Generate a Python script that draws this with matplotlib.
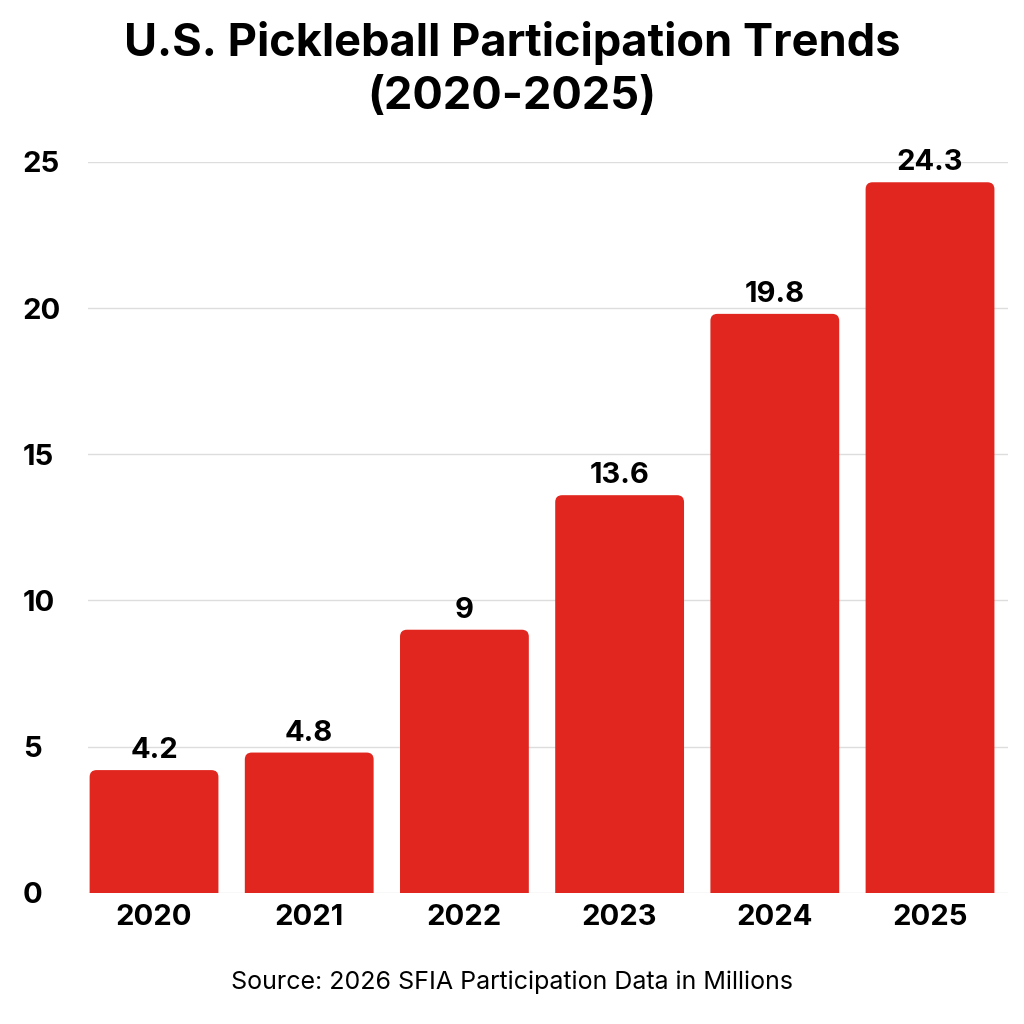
import matplotlib
matplotlib.use("Agg")
import matplotlib.pyplot as plt
from matplotlib.patches import FancyBboxPatch

plt.rcParams["font.family"] = ["Inter", "DejaVu Sans"]

years = ["2020", "2021", "2022", "2023", "2024", "2025"]
participants = [4.2, 4.8, 9, 13.6, 19.8, 24.3]
value_labels = ["4.2", "4.8", "9", "13.6", "19.8", "24.3"]
yticks = [0, 5, 10, 15, 20, 25]

red = "#E0261E"
fig = plt.figure(figsize=(10.24, 10.24), dpi=100)
ax = fig.add_axes([0.086, 0.128, 0.898, 0.714])

width = 0.83
x_px, y_px = 155, 29.24
for i, v in enumerate(participants):
    patch = FancyBboxPatch(
        (i - width / 2, -1), width, v + 1,
        boxstyle="round,pad=0,rounding_size=0.045",
        mutation_aspect=x_px / y_px,
        facecolor=red, edgecolor="none", zorder=2,
    )
    ax.add_patch(patch)
    ax.text(i, v + 0.2, value_labels[i], ha="center", va="bottom",
            fontsize=21, fontweight="bold", zorder=3)

ax.set_xlim(-0.425, 5.5)
ax.set_ylim(0, 25)
ax.set_xticks(range(len(years)))
ax.set_xticklabels(years, fontsize=21, fontweight="bold")
ax.set_yticks(yticks)
ax.set_yticklabels([str(t) for t in yticks], fontsize=21, fontweight="bold")
ax.tick_params(length=0, pad=8)
ax.tick_params(axis="y", pad=47)
for lbl in ax.get_yticklabels():
    lbl.set_horizontalalignment("left")
ax.yaxis.grid(True, color="#dddddd", linewidth=1, zorder=0)
ax.set_axisbelow(True)
for s in ax.spines.values():
    s.set_visible(False)

fig.text(0.5, 0.932, "U.S. Pickleball Participation Trends\n(2020-2025)",
         ha="center", va="center", fontsize=32.5, fontweight="bold", linespacing=1.35)
fig.text(0.5, 0.041, "Source: 2026 SFIA Participation Data in Millions",
         ha="center", va="center", fontsize=18)

fig.savefig("out.png", dpi=100, facecolor="white")
